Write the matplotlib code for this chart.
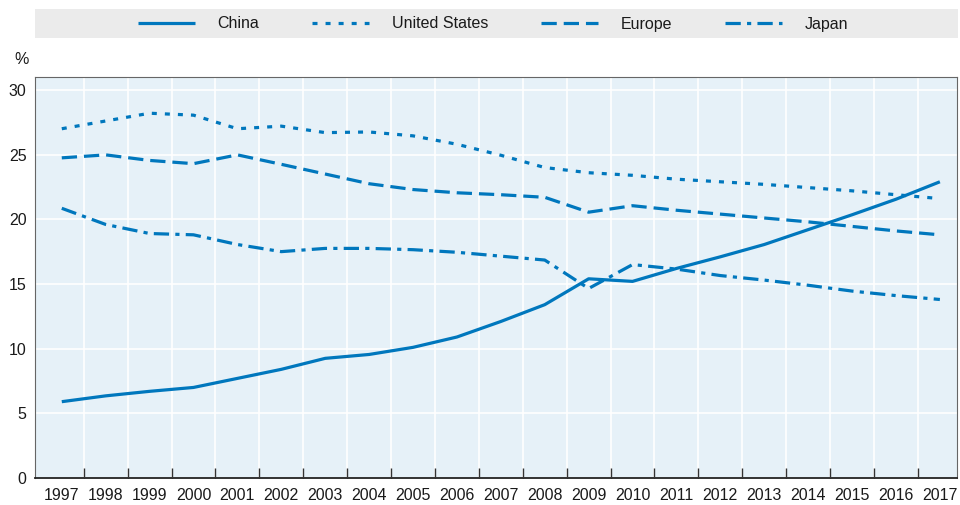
import numpy as np
import matplotlib
matplotlib.use('Agg')
import matplotlib.pyplot as plt
from matplotlib import font_manager
from matplotlib.patches import Rectangle

# narrow font if one is installed, otherwise Liberation Sans a bit smaller
names = {f.name for f in font_manager.fontManager.ttflist}
if 'Liberation Sans Narrow' in names:
    plt.rcParams['font.family'] = ['Liberation Sans Narrow', 'DejaVu Sans']
    fs = 14
else:
    plt.rcParams['font.family'] = ['Liberation Sans', 'DejaVu Sans']
    fs = 11.5
plt.rcParams['lines.scale_dashes'] = False

years = [str(y) for y in range(1997, 2018)]
china = [5.9, 6.35, 6.7, 7.0, 7.7, 8.4, 9.25, 9.55, 10.1, 10.9, 12.1, 13.4,
         15.4, 15.2, 16.2, 17.1, 18.05, 19.2, 20.35, 21.55, 22.9]
united_states = [27.0, 27.6, 28.2, 28.05, 27.0, 27.2, 26.7, 26.75, 26.45, 25.8, 24.95,
                 24.0, 23.6, 23.4, 23.1, 22.9, 22.7, 22.45, 22.2, 21.9, 21.6]
europe = [24.75, 24.98, 24.55, 24.3, 24.98, 24.25, 23.5, 22.75, 22.3, 22.05, 21.9,
          21.7, 20.55, 21.05, 20.7, 20.4, 20.1, 19.8, 19.45, 19.1, 18.8]
japan = [20.85, 19.6, 18.9, 18.8, 18.05, 17.5, 17.75, 17.75, 17.65, 17.45, 17.15,
         16.85, 14.65, 16.5, 16.15, 15.65, 15.3, 14.9, 14.45, 14.1, 13.8]

blue = '#0077bd'
styles = {
    'China': '-',
    'United States': (0, (3.6, 5.8)),
    'Europe': (0, (11, 5)),
    'Japan': (0, (11, 4.5, 3, 4.5)),
}
series = {'China': china, 'United States': united_states, 'Europe': europe, 'Japan': japan}

fig = plt.figure(figsize=(9.6, 5.05), dpi=100)
ax = fig.add_axes([35 / 960, 1 - 478 / 505, 922 / 960, 401 / 505])
ax.set_facecolor('#e6f1f8')

x = np.arange(len(years))
handles = []
for name, vals in series.items():
    ln, = ax.plot(x, vals, color=blue, lw=2.3, linestyle=styles[name],
                  solid_capstyle='butt', dash_capstyle='butt', label=name)
    handles.append(ln)

ax.set_xlim(-0.61, 20.39)
ax.set_ylim(0, 31)
ax.set_yticks(range(0, 31, 5))
ax.set_xticks(x)
ax.set_xticklabels(years)
ax.set_xticks(x[:-1] + 0.5, minor=True)
ax.grid(axis='y', color='white', lw=1.2)
ax.grid(axis='x', which='minor', color='white', lw=1.2)
ax.set_axisbelow(True)
ax.tick_params(axis='x', which='major', length=0, pad=7, labelsize=fs, colors='#1a1a1a')
ax.tick_params(axis='x', which='minor', direction='in', length=7, width=1, color='#333333')
ax.tick_params(axis='y', length=0, pad=6, labelsize=fs, colors='#1a1a1a')
for s in ['top', 'right', 'left']:
    ax.spines[s].set_color('#666666')
    ax.spines[s].set_linewidth(0.8)
ax.spines['bottom'].set_color('#222222')
ax.spines['bottom'].set_linewidth(1.3)

fig.text(22 / 960, 1 - 59 / 505, '%', fontsize=fs, ha='center', va='center', color='#1a1a1a')

# legend band
fig.patches.append(Rectangle((35 / 960, 1 - 38 / 505), 923 / 960, 29 / 505,
                             transform=fig.transFigure, facecolor='#ebebeb',
                             edgecolor='none', zorder=0))
fig.legend(handles=handles, loc='center', bbox_to_anchor=(493 / 960, 1 - 24 / 505),
           ncol=4, frameon=False, fontsize=fs, handlelength=3.6, handletextpad=1.4,
           columnspacing=3.3, labelcolor='#1a1a1a')

fig.savefig('out.png', dpi=100)
